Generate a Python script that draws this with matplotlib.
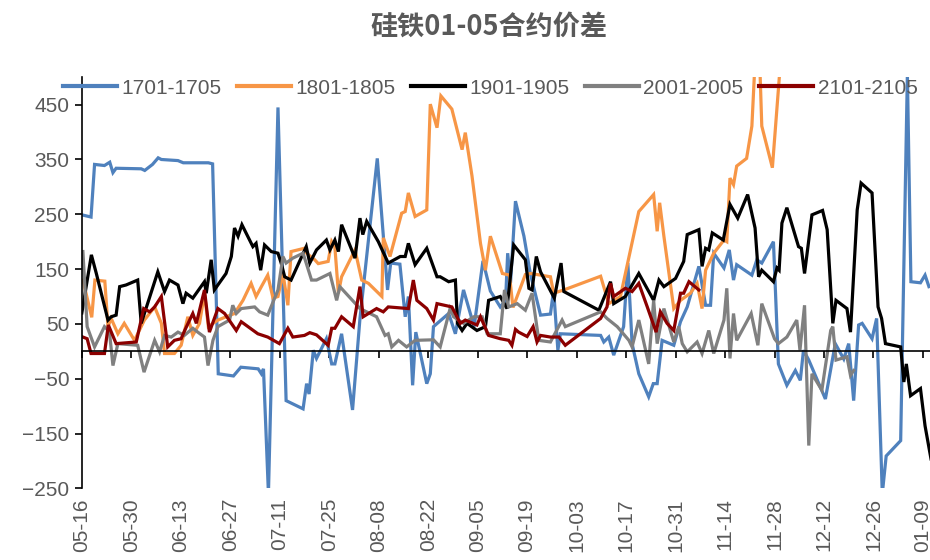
import numpy as np
import pandas as pd
import matplotlib
matplotlib.use("Agg")
import matplotlib.pyplot as plt
import matplotlib.dates as mdates

plt.rcParams['font.family'] = ['Liberation Sans', 'Noto Sans CJK SC', 'DejaVu Sans']

# days counted from 05-16
blue_days = [0, 2.6, 3.6, 6.4, 7.9, 8.8, 9.7, 16.8, 17.8, 20, 21.6, 22.5, 27.2, 28.7, 35.8, 37,
             38.6, 42.9, 45, 49.9, 50.8, 51.4, 52.8, 55.5, 57.8, 62.6, 63.6, 64.3, 65.5, 66.4,
             69.2, 70.7, 71.6, 73.5, 76.6, 78.7, 83.6, 86.5, 87.4, 90, 91.5, 92.4, 93.6, 94.5,
             97.6, 98.6, 99.5, 103.8, 105.7, 108, 111, 113.5, 115.6, 118.4, 119.9, 120.5, 121.3,
             122.7, 125.1, 126.9, 129.8, 132.6, 133.5, 134.7, 135.4, 146.8, 147.7, 149.1, 150.5,
             153.3, 154.5, 155.7, 157.6, 160.4, 161.7, 162.8, 164.2, 167.5, 169.4, 171.3, 174.6,
             176.5, 177.9, 178.8, 181.7, 183.2, 184.4, 185.3, 189.6, 191, 192.4, 195.7, 197.1,
             199.5, 201.9, 203.3, 204.2, 205.7, 210.4, 213.2, 215.6, 217, 218.4, 219.8, 220.8,
             223.6, 224.9, 226.5, 227.6, 231.7, 233.6, 234.6, 237.3, 238.6, 239.7]
blue_vals = [249, 245, 341, 339, 345, 326, 334, 333, 330, 341, 353, 350, 348, 344, 344, 342,
             -41, -45, -29, -32, -41, -32, -260, 445, -90, -105, -59, -78, 2, -13,
             23, -23, -23, 32, -107, 60, 352, 112, 161, 159, 63, 100, -62, 35,
             -59, -41, 45, 69, 32, 112, 45, 165, 110, 81, 93, 179, 125,
             274, 210, 142, 66, 68, 112, 2, 32, 29, 17, 26, -7,
             45, 161, 14, -41, -83, -59, -59, 20, 11, 54, 81, 155,
             84, 84, 179, 152, 185, 130, 158, 139, 167, 161, 200, -23,
             -62, -35, -53, 2, -16, -87, 14, -14, 14, -90, 48, 51,
             23, 60, -260, -191, -163, 505, 127, 125, 139, 118]

orange_days = [0.3, 2.8, 3.7, 6.5, 7.4, 8.3, 10.2, 12, 14.9, 17.7, 20.6, 22.5, 23.4, 26.2, 28.1,
               30, 31.4, 33.3, 34.7, 35.8, 38.5, 43.2, 45.6, 47.9, 49.3, 50.8, 52.6, 54.1, 55.5,
               56.9, 58.3, 59.2, 63, 63.6, 65.9, 66.9, 69.7, 70.7, 71.6, 72.6, 73.5, 77.3, 79.2,
               81.1, 84.9, 85.3, 87.2, 90.5, 91.5, 92.4, 94.3, 97.6, 98.6, 100.5, 101.6, 104.7,
               107.6, 108.5, 110.4, 112.8, 114.2, 115.6, 119, 121, 122, 125.5, 127, 132.6, 133.5,
               136.4, 146.8, 149.1, 152.4, 157.6, 161.8, 162.8, 163.5, 164.7, 167.5, 169.4, 172.2,
               174.1, 175.5, 176.5, 178.8, 181.7, 182.5, 183.4, 184.4, 185.3, 188.1, 189.6, 190.5,
               191.8, 192.4, 195.4, 197.6, 198.5]
orange_vals = [130, 62, 130, 128, 45, 60, 32, 51, 20, 57, 81, 51, -4, -4, 11,
               63, 29, 51, 106, 45, 57, 69, 93, 124, 100, 118, 139, 97, 100,
               142, 84, 182, 188, 179, 167, 160, 164, 200, 190, 106, 136, 185, 130,
               124, 100, 207, 173, 252, 255, 289, 246, 258, 451, 408, 466, 442,
               368, 399, 320, 197, 148, 210, 142, 139, 80, 140, 142, 136, 106,
               112, 137, 87, 100, 255, 286, 219, 271, 210, 78, 93, 106,
               124, 78, 148, 179, 203, 200, 316, 304, 338, 352, 411, 530,
               530, 411, 335, 520, 560]

black_days = [0, 2.7, 4.1, 7.4, 8.3, 9.7, 10.7, 12.5, 15.8, 16.8, 21.5, 23.4, 24.8, 27.2, 28.6,
              29.5, 31.4, 34.7, 35.2, 36.6, 37.5, 40.8, 42.3, 43.2, 44.2, 45.3, 48.4, 49.3, 50.6,
              51.7, 53.6, 55.5, 56.4, 57.4, 59.2, 63.5, 64.5, 66.4, 69.2, 70.2, 71.6, 72.6, 73.5,
              77.3, 78.7, 79.5, 80.6, 83.9, 86.7, 90.1, 91.5, 92.4, 94.3, 97.6, 100.5, 101.4,
              103.8, 105.7, 106.3, 107.6, 109, 111.8, 114.2, 115.1, 118.4, 120.3, 122.2, 125.5,
              126.5, 127.4, 128.6, 129.8, 133.7, 135.6, 136.4, 146.3, 149.6, 150.5, 153.8, 157.6,
              161.8, 163.3, 164.7, 168, 170.3, 171.3, 174.6, 175.5, 176.5, 177.4, 178.4, 181.5,
              183.4, 185.6, 188.4, 190.5, 191.5, 192.4, 195.7, 196.7, 197.3, 198.1, 199.5, 202.8,
              203.6, 204.5, 206.6, 209.6, 210.9, 212.5, 213.4, 216.5, 217.5, 219.4, 220.5, 223.6,
              225.3, 226.3, 227.4, 231.7, 232.6, 233.3, 234.5, 237.3, 238.6, 240.3]
black_vals = [70, 176, 142, 57, 63, 66, 118, 121, 130, 51, 145, 109, 130, 121, 87,
              106, 97, 127, 106, 167, 112, 142, 173, 225, 210, 231, 191, 197, 148,
              194, 182, 179, 161, 136, 130, 191, 161, 185, 203, 185, 203, 182, 231,
              170, 243, 213, 237, 200, 161, 173, 173, 197, 158, 188, 136, 136,
              127, 130, 51, 38, 51, 38, 45, 93, 100, 78, 194, 167,
              115, 112, 173, 145, 97, 161, 109, 75, 127, 87, 100, 142,
              93, 130, 118, 133, 164, 213, 222, 155, 188, 185, 216, 203,
              268, 243, 286, 225, 136, 148, 127, 152, 148, 234, 262, 191,
              188, 142, 249, 257, 222, 51, 93, 78, 35, 258, 307, 289,
              81, 60, 14, 8, -56, -23, -81, -68, -136, -197]

gray_days = [0.3, 1.5, 3.6, 6.4, 7.8, 8.8, 10.2, 15.8, 17.6, 20.6, 22, 23.4, 25.3, 27.2, 29,
             31.4, 32.8, 34.7, 35.7, 37.1, 38.5, 41.8, 42.7, 43.7, 45.1, 48.9, 50.3, 52.6, 55.5,
             56.9, 57.8, 59.7, 62.6, 65, 66.4, 70.2, 72.1, 73, 78.7, 83.4, 85.8, 86.7, 87.7,
             89.6, 91.9, 94.3, 99.5, 101.4, 104.2, 105.2, 108, 110.9, 113.3, 114.7, 118.4, 119.6,
             120.8, 123.2, 125.5, 127.4, 129.3, 132.6, 135.9, 136.8, 146.8, 148.6, 151.5, 154.8,
             155.7, 157.6, 160.4, 161.8, 162.8, 164.7, 167.5, 168.9, 169.9, 171.3, 174.1, 175.5,
             177.4, 178.8, 181.7, 182.5, 183.4, 184.4, 185.3, 189.4, 191.3, 192.4, 196, 197.1,
             199.5, 202.3, 203.2, 204.5, 205.7, 206.6, 209.4, 211.9, 212.5, 213.4, 216.5, 217.5,
             218.4]
gray_vals = [182, 45, 8, 45, 36, -26, 14, 11, -38, 20, -1, 29, 26, 35, 29,
             42, 35, 26, -26, 20, 45, 57, 84, 69, 78, 81, 72, 66, 112,
             173, 161, 170, 179, 130, 130, 142, 93, 118, 78, 63, 29, 32, 8,
             20, 8, 20, 21, 8, 78, 63, 51, 63, 63, 32, 32, 112,
             81, 87, 75, 106, 20, 17, 57, 45, 72, 60, 45, 20,
             8, 57, -23, 93, 14, 78, 17, 45, 14, -1, 17, -4,
             38, -4, 57, 115, -13, 69, 20, 69, 11, 87, 23, 14,
             26, 57, 2, 84, -172, -41, -71, 38, 45, -16, -10, -44,
             -35]

red_days = [0.3, 1.5, 2.6, 4.1, 6.4, 7.5, 9.7, 15.4, 17.5, 19.2, 20.6, 22.5, 24.3, 26.2, 28.1,
            29.1, 31.4, 32.4, 34.7, 36.1, 38.5, 40.4, 43.7, 45.1, 49.8, 52.6, 55.9, 58.3, 59.7,
            63, 64.5, 66.4, 69.7, 70.7, 71.6, 73.5, 76.8, 78.7, 79.6, 83.4, 85.3, 86.7, 92.4,
            93.8, 94.8, 97.6, 99.5, 100.5, 104.7, 107.1, 108.5, 111.8, 112.8, 115.1, 118.4,
            120.8, 121.7, 122.7, 123.6, 126, 127.7, 128.8, 129.8, 132.6, 135, 136.8, 146.8,
            148.6, 149.6, 150.5, 153.8, 155.7, 157.6, 160, 162.5, 163.7, 165.6, 167.5, 169.4,
            170.3, 171.8, 174.6]
red_vals = [26, 23, -4, -4, -4, 48, 14, 17, 78, 72, 81, 100, 8, 20, 23,
            38, 69, 51, 112, 35, 78, 69, 38, 54, 32, 26, 14, 42, 26,
            29, 34, 30, 11, 42, 42, 63, 45, 118, 63, 78, 72, 81, 78,
            130, 93, 78, 57, 87, 81, 51, 57, 48, 63, 29, 23,
            20, 11, 40, 35, 27, 45, 17, 29, 26, 26, 11, 60,
            81, 124, 100, 115, 109, 124, 81, 35, 72, 51, 38, 106,
            106, 127, 112]

series_names = ['1701-1705', '1801-1805', '1901-1905', '2001-2005', '2101-2105']
series_colors = ['#4F81BD', '#F79646', '#000000', '#808080', '#8B0000']
y_ticks = [-250, -150, -50, 50, 150, 250, 350, 450]

base = pd.Timestamp('2018-05-16')


def to_dates(days):
    return base + pd.to_timedelta(np.array(days), unit='D')


fig = plt.figure(figsize=(9.3, 5.6), dpi=100)
ax = fig.add_axes([0.088, 0.128, 0.912, 0.734])

all_days = [blue_days, orange_days, black_days, gray_days, red_days]
all_vals = [blue_vals, orange_vals, black_vals, gray_vals, red_vals]
for d, v, name, c in zip(all_days, all_vals, series_names, series_colors):
    ax.plot(to_dates(d), v, color=c, lw=2.3, label=name, solid_joinstyle='miter')

ax.set_ylim(-250, 500)
ax.set_xlim(base, base + pd.Timedelta(days=240))
ax.set_yticks(y_ticks)

xt = pd.date_range(base, periods=18, freq='14D')
ax.set_xticks(xt)
ax.xaxis.set_major_formatter(mdates.DateFormatter('%m-%d'))

for s in ['top', 'right']:
    ax.spines[s].set_visible(False)
ax.spines['bottom'].set_position(('data', 0))
ax.spines['left'].set_linewidth(1.2)
ax.spines['bottom'].set_linewidth(1.2)
ax.tick_params(axis='x', direction='out', length=5, width=1.2, labelbottom=False)
ax.tick_params(axis='y', direction='out', length=5, width=1.2, labelsize=15,
               labelcolor='#595959', pad=4)

# labels sit at the bottom of the plot area, ticks stay on the zero line
sec = ax.secondary_xaxis('bottom')
sec.set_xticks(xt)
sec.xaxis.set_major_formatter(mdates.DateFormatter('%m-%d'))
sec.tick_params(length=0, labelsize=15, labelcolor='#595959', pad=7)
sec.spines['bottom'].set_visible(False)
for lbl in sec.get_xticklabels():
    lbl.set_rotation(90)

leg = fig.legend(loc='center', bbox_to_anchor=(0.527, 1 - 88 / 560), ncol=5, frameon=False,
                 fontsize=15, handlelength=2.6, handletextpad=0.2, columnspacing=0.75)
for t in leg.get_texts():
    t.set_color('#595959')
for h in leg.get_lines():
    h.set_linewidth(3)

fig.text(489 / 930, 1 - 27 / 560, '硅铁01-05合约价差', ha='center', va='center',
         fontsize=19.5, fontweight='bold', color='#595959',
         family=['Noto Sans CJK SC', 'DejaVu Sans'])

fig.savefig('out.png', dpi=100)
